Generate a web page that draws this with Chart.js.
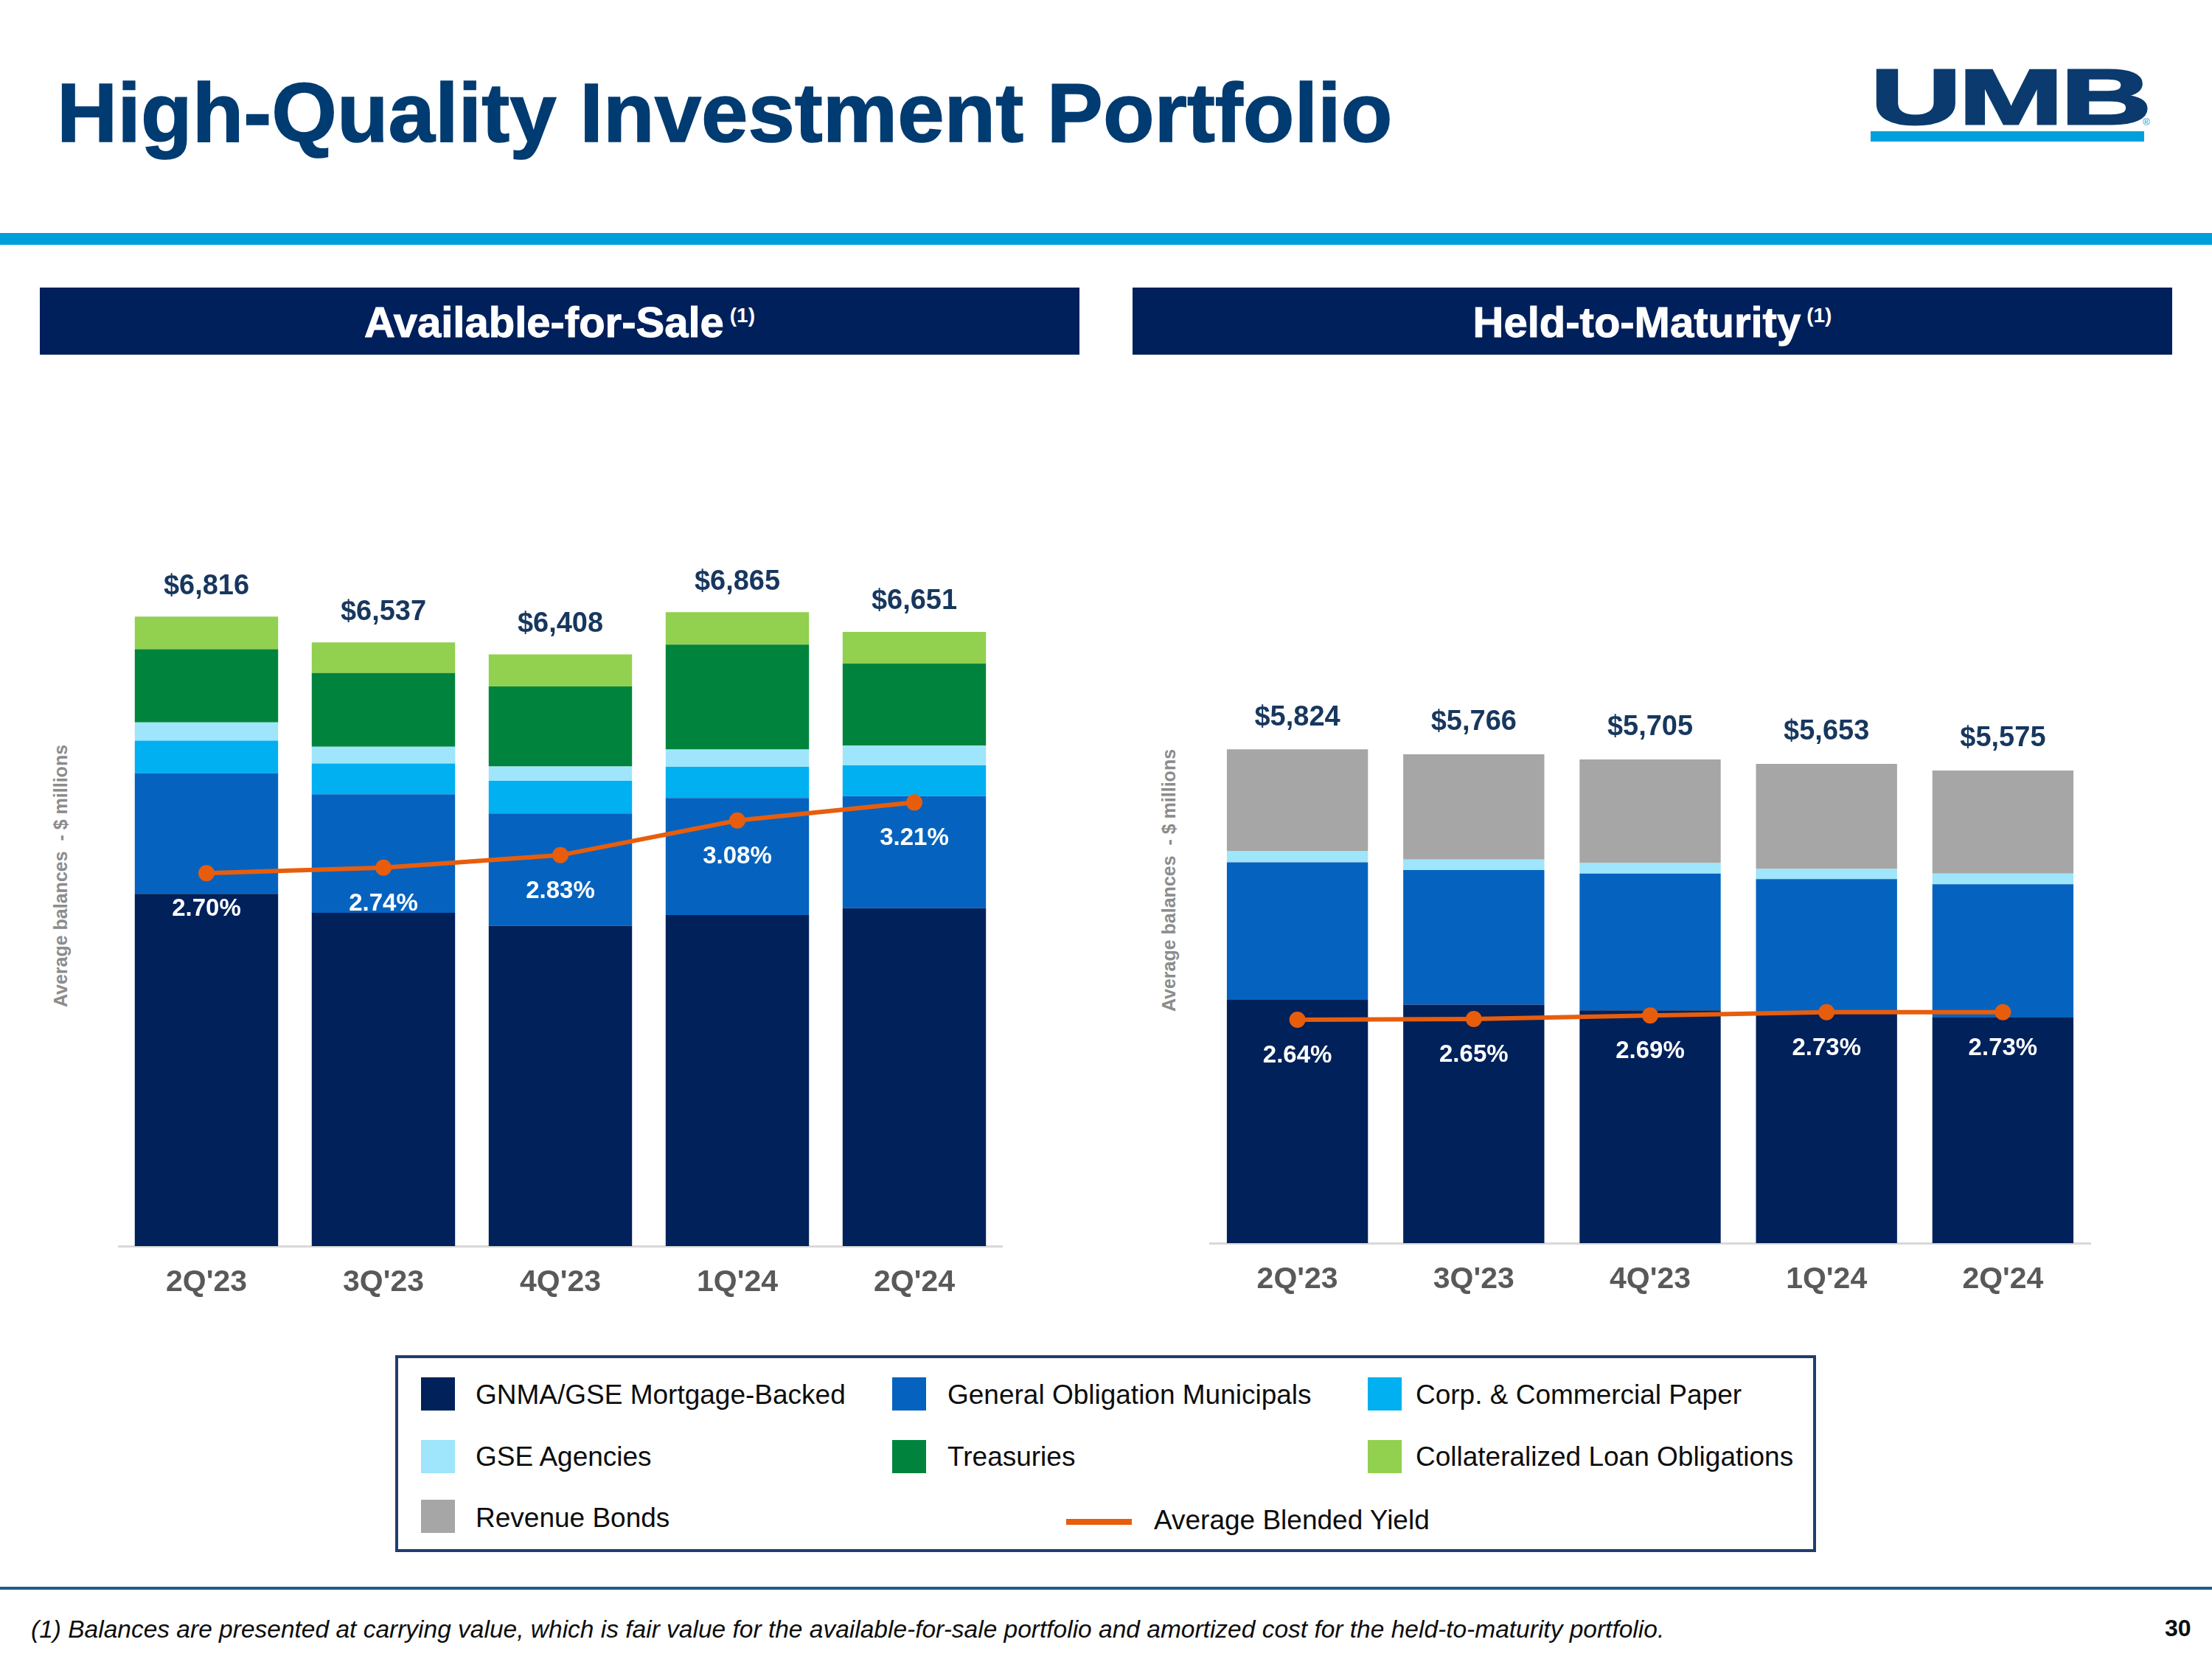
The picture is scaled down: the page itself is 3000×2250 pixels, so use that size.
<!DOCTYPE html>
<html>
<head>
<meta charset="utf-8">
<script src="https://cdn.jsdelivr.net/npm/chart.js@4.4.1/dist/chart.umd.min.js"></script>
<style>
  html, body { margin:0; padding:0; background:#fff; }
  body { width:3000px; height:2250px; position:relative; overflow:hidden; font-family:"Liberation Sans", Arial, sans-serif; }
  .abs { position:absolute; white-space:nowrap; }
  .title { left:77px; top:96px; font-size:114px; line-height:1; font-weight:bold; color:#003b71; -webkit-text-stroke:1.5px #003b71; }
  .hdr { background:#00205b; height:91px; top:390px; width:1410px; }
  .hdrtxt { top:408px; width:1410px; text-align:center; color:#fff; font-weight:bold; font-size:58px; line-height:1; -webkit-text-stroke:1px #fff; }
  .hdrtxt sup { font-size:28px; vertical-align:20px; margin-left:8px; line-height:0; -webkit-text-stroke:0; }
  .ytitle { width:380px; height:30px; line-height:30px; text-align:center; font-size:25px; font-weight:bold; color:#8c8c8c; transform:rotate(-90deg); }
  .sq { width:46px; height:45px; }
  .lt { font-size:37px; line-height:1; color:#0d0d0d; }
  canvas { position:absolute; }
</style>
</head>
<body>
<div class="abs title">High-Quality Investment Portfolio</div>

<div class="abs" style="left:2537px;top:79px;font-size:105px;line-height:1;font-weight:bold;color:#0b3a6e;transform:scaleX(1.62);transform-origin:0 0;-webkit-text-stroke:3px #0b3a6e;letter-spacing:-2px;">UMB</div>
<div class="abs" style="left:2537px;top:178px;width:371px;height:14px;background:#00a0dc;"></div>
<div class="abs" style="left:2906px;top:158px;font-size:13px;color:#00a0dc;">®</div>

<div class="abs" style="left:0;top:316px;width:3000px;height:16px;background:#009fdb;"></div>

<div class="abs hdr" style="left:54px;"></div>
<div class="abs hdrtxt" style="left:54px;">Available-for-Sale<sup>(1)</sup></div>
<div class="abs hdr" style="left:1536px;"></div>
<div class="abs hdrtxt" style="left:1536px;">Held-to-Maturity<sup>(1)</sup></div>

<div class="abs ytitle" style="left:-108px;top:1173px;">Average balances&nbsp; - $ millions</div>
<div class="abs ytitle" style="left:1395px;top:1179px;">Average balances&nbsp; - $ millions</div>

<canvas id="afs" width="1200" height="1082" style="left:160px;top:688px;"></canvas>
<canvas id="htm" width="1196" height="1000" style="left:1640px;top:766px;"></canvas>

<div class="abs" style="left:536px;top:1838px;width:1927px;height:267px;border:4px solid #1f3e6e;box-sizing:border-box;"></div>
<div id="legend"></div>

<div class="abs" style="left:0;top:2152px;width:3000px;height:4px;background:#1f5a8e;"></div>
<div class="abs" style="left:42px;top:2193px;font-size:33.5px;line-height:1;font-style:italic;color:#0d0d0d;">(1) Balances are presented at carrying value, which is fair value for the available-for-sale portfolio and amortized cost for the held-to-maturity portfolio.</div>
<div class="abs" style="left:2936px;top:2192px;font-size:32px;line-height:1;font-weight:bold;color:#0d0d0d;">30</div>

<script>
// ---------------- DATA ----------------
const quarters = ["2Q'23", "3Q'23", "4Q'23", "1Q'24", "2Q'24"];

// Available-for-Sale ($ millions)
const afsGnma     = [3814, 3608, 3470, 3584, 3658];
const afsGoMuni   = [1306, 1285, 1215, 1269, 1215];
const afsCorp     = [353, 332, 353, 337, 332];
const afsGseAg    = [198, 182, 155, 187, 214];
const afsTreas    = [792, 798, 867, 1135, 889];
const afsClo      = [353, 332, 348, 353, 343];
const afsTotals   = [6816, 6537, 6408, 6865, 6651];
const afsYield    = [2.70, 2.74, 2.83, 3.08, 3.21];

// Held-to-Maturity ($ millions)
const htmGnma     = [2869, 2812, 2746, 2723, 2661];
const htmGoMuni   = [1622, 1587, 1612, 1570, 1572];
const htmGseAg    = [130, 125, 125, 120, 125];
const htmRevenue  = [1203, 1242, 1222, 1240, 1217];
const htmTotals   = [5824, 5766, 5705, 5653, 5575];
const htmYield    = [2.64, 2.65, 2.69, 2.73, 2.73];

const seriesNames = {
  gnma: "GNMA/GSE Mortgage-Backed",
  go: "General Obligation Municipals",
  corp: "Corp. & Commercial Paper",
  gse: "GSE Agencies",
  treas: "Treasuries",
  clo: "Collateralized Loan Obligations",
  rev: "Revenue Bonds",
  yld: "Average Blended Yield"
};

// ---------------- STYLE ----------------
const COLORS = {
  gnma: '#00215a', go: '#0563bf', corp: '#00b0f0', gse: '#9fe5fb',
  treas: '#00843d', clo: '#92d050', rev: '#a6a6a6', yld: '#e85d0c'
};
const FONT = '"Liberation Sans", Arial, sans-serif';
Chart.defaults.font.family = FONT;

const labelPlugin = {
  id: 'valueLabels',
  afterDatasetsDraw(chart, args, opts) {
    const ctx = chart.ctx;
    const yScale = chart.scales.y;
    const lineIdx = chart.data.datasets.findIndex(d => d.type === 'line');
    const lineMeta = chart.getDatasetMeta(lineIdx);
    const xScale = chart.scales.x;
    ctx.save();
    ctx.textAlign = 'center';
    ctx.textBaseline = 'middle';
    ctx.font = 'bold 38px ' + FONT;
    ctx.fillStyle = '#17375e';
    opts.totals.forEach((t, i) => {
      const x = xScale.getPixelForValue(i);
      const y = yScale.getPixelForValue(t) - opts.totalGap;
      ctx.fillText('$' + t.toLocaleString('en-US'), x, y);
    });
    ctx.font = 'bold 33px ' + FONT;
    ctx.fillStyle = '#ffffff';
    lineMeta.data.forEach((pt, i) => {
      ctx.fillText(opts.yields[i].toFixed(2) + '%', pt.x, pt.y + opts.yieldGap);
    });
    ctx.restore();
  }
};

function barDs(label, data, color, pct) {
  return { type: 'bar', label, data, backgroundColor: color, borderWidth: 0, order: 1,
           yAxisID: 'y', barPercentage: pct, categoryPercentage: 1.0 };
}
function lineDs(data) {
  return { type: 'line', label: seriesNames.yld, data, yAxisID: 'y2', order: 0,
           borderColor: COLORS.yld, backgroundColor: COLORS.yld, borderWidth: 6,
           pointRadius: 11, pointBackgroundColor: COLORS.yld, pointBorderWidth: 0,
           tension: 0, fill: false, clip: false };
}
function makeOptions(yMax, y2Min, y2Max, totals, yields, totalGap) {
  return {
    responsive: false, animation: false, devicePixelRatio: 1,
    layout: { padding: 0, autoPadding: false },
    plugins: { legend: { display: false }, tooltip: { enabled: false },
               valueLabels: { totals, yields, totalGap, yieldGap: 49 } },
    scales: {
      x: { stacked: true, offset: true,
           grid: { display: false, drawTicks: false },
           border: { display: true, color: '#d9d9d9', width: 3 },
           ticks: { color: '#595959', font: { size: 41, weight: 'bold', family: FONT }, padding: 25, maxRotation: 0 },
           afterFit: s => { s.height = 80; } },
      y: { stacked: true, display: false, min: 0, max: yMax },
      y2: { display: false, min: y2Min, max: y2Max, stacked: false }
    }
  };
}

new Chart(document.getElementById('afs'), {
  data: {
    labels: quarters,
    datasets: [
      barDs(seriesNames.gnma, afsGnma, COLORS.gnma, 0.81),
      barDs(seriesNames.go, afsGoMuni, COLORS.go, 0.81),
      barDs(seriesNames.corp, afsCorp, COLORS.corp, 0.81),
      barDs(seriesNames.gse, afsGseAg, COLORS.gse, 0.81),
      barDs(seriesNames.treas, afsTreas, COLORS.treas, 0.81),
      barDs(seriesNames.clo, afsClo, COLORS.clo, 0.81),
      lineDs(afsYield)
    ]
  },
  options: makeOptions(8000, 0.012, 5.338, afsTotals, afsYield, 41),
  plugins: [labelPlugin]
});

new Chart(document.getElementById('htm'), {
  data: {
    labels: quarters,
    datasets: [
      barDs(seriesNames.gnma, htmGnma, COLORS.gnma, 0.80),
      barDs(seriesNames.go, htmGoMuni, COLORS.go, 0.80),
      barDs(seriesNames.gse, htmGseAg, COLORS.gse, 0.80),
      barDs(seriesNames.rev, htmRevenue, COLORS.rev, 0.80),
      lineDs(htmYield)
    ]
  },
  options: makeOptions(8000, 0.006, 8.006, htmTotals, htmYield, 43),
  plugins: [labelPlugin]
});

// ---------------- LEGEND (HTML) ----------------
const legendItems = [
  { key: 'gnma', sx: 571, sy: 1868, tx: 645, cy: 1891 },
  { key: 'go',   sx: 1210, sy: 1868, tx: 1285, cy: 1891 },
  { key: 'corp', sx: 1855, sy: 1868, tx: 1920, cy: 1891 },
  { key: 'gse',  sx: 571, sy: 1953, tx: 645, cy: 1975 },
  { key: 'treas',sx: 1210, sy: 1953, tx: 1285, cy: 1975 },
  { key: 'clo',  sx: 1855, sy: 1953, tx: 1920, cy: 1975 },
  { key: 'rev',  sx: 571, sy: 2034, tx: 645, cy: 2058 }
];
const lg = document.getElementById('legend');
let html = '';
legendItems.forEach(it => {
  html += `<div class="abs sq" style="left:${it.sx}px;top:${it.sy}px;background:${COLORS[it.key]};"></div>`;
  html += `<div class="abs lt" style="left:${it.tx}px;top:${it.cy - 18}px;">${seriesNames[it.key]}</div>`;
});
html += `<div class="abs" style="left:1446px;top:2060px;width:89px;height:8px;background:${COLORS.yld};"></div>`;
html += `<div class="abs lt" style="left:1565px;top:${2061 - 18}px;">${seriesNames.yld}</div>`;
lg.innerHTML = html;
</script>
</body>
</html>
